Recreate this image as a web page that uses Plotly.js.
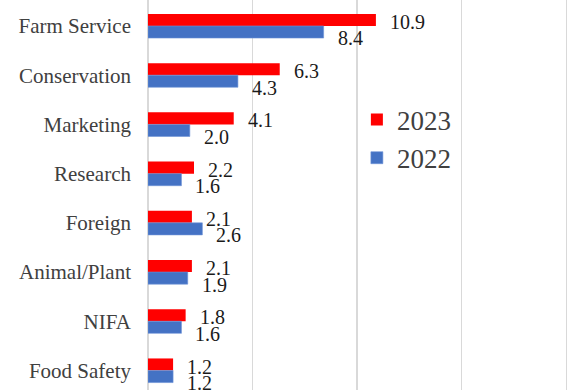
<!DOCTYPE html>
<html>
<head>
<meta charset="utf-8">
<script src="https://cdn.plot.ly/plotly-3.0.1.min.js"></script>
<style>html,body{margin:0;padding:0;background:#fff;}#chart{width:585px;height:390px;}</style>
</head>
<body>
<div id="chart"></div>
<script>
const categories = ["Farm Service", "Conservation", "Marketing", "Research", "Foreign", "Animal/Plant", "NIFA", "Food Safety"];
const values2023 = [10.9, 6.3, 4.1, 2.2, 2.1, 2.1, 1.8, 1.2];
const values2022 = [8.4, 4.3, 2.0, 1.6, 2.6, 1.9, 1.6, 1.2];
const seriesNames = ["2023", "2022"];

const serif = "Liberation Serif";

const traces = [
  {type: "bar", orientation: "h", name: seriesNames[0], y: categories, x: values2023,
   marker: {color: "#FF0000"}, hoverinfo: "skip"},
  {type: "bar", orientation: "h", name: seriesNames[1], y: categories, x: values2022,
   marker: {color: "#4472C4", line: {color: "#6f93d6", width: 0.6}}, hoverinfo: "skip"}
];

const annotations = [];
categories.forEach((c, i) => {
  annotations.push({x: values2023[i], y: c, text: values2023[i].toFixed(1), showarrow: false,
    xanchor: "left", yanchor: "middle", xshift: 13, yshift: 4, borderpad: 0,
    font: {family: serif, size: 20, color: "#1a1a1a"}});
  annotations.push({x: values2022[i], y: c, text: values2022[i].toFixed(1), showarrow: false,
    xanchor: "left", yanchor: "middle", xshift: 13, yshift: -12.5, borderpad: 0,
    font: {family: serif, size: 20, color: "#1a1a1a"}});
});

const layout = {
  width: 585, height: 390,
  margin: {l: 148, r: 0, t: 0, b: 0},
  paper_bgcolor: "#fff", plot_bgcolor: "#fff",
  barmode: "group", bargap: 0.51, bargroupgap: 0,
  showlegend: true,
  legend: {x: 0.478, y: 0.755, xanchor: "left", yanchor: "top",
    font: {family: serif, size: 27, color: "#404040"}, bgcolor: "rgba(0,0,0,0)",
    tracegroupgap: 12},
  xaxis: {range: [0, 20.9], dtick: 5, showgrid: true, gridcolor: "#d9d9d9", gridwidth: 1.2,
    zeroline: true, zerolinecolor: "#d9d9d9", zerolinewidth: 1.2,
    showticklabels: false, ticks: "", fixedrange: true},
  yaxis: {type: "category", range: [7.396, -0.528], showgrid: false, zeroline: false,
    ticks: "", ticklabelstandoff: 16,
    tickfont: {family: serif, size: 21, color: "#404040"}, fixedrange: true},
  annotations: annotations
};

Plotly.newPlot("chart", traces, layout, {displayModeBar: false, staticPlot: true});
</script>
</body>
</html>
